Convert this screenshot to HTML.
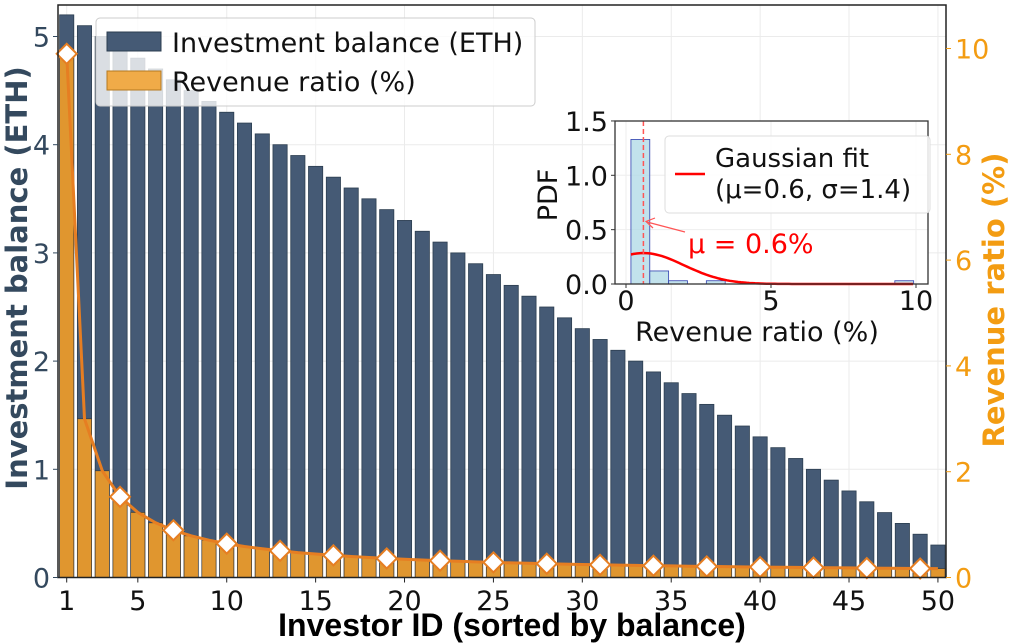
<!DOCTYPE html>
<html><head><meta charset="utf-8">
<style>
html,body{margin:0;padding:0;background:#fff;}
svg{display:block;}
text{font-family:"DejaVu Sans","Liberation Sans",sans-serif;}
</style></head>
<body>
<svg id="s" width="1024" height="643" viewBox="0 0 1024 643" xmlns="http://www.w3.org/2000/svg"></svg>
<script>
const S=document.getElementById('s');
let h='';
const L=58,R=946,T=5,B=577.5;
const X=i=>66.7+(i-1)*17.78;
const YL=v=>B-v*108.2;
const YR=v=>B-v*52.9;
for(let i of [1,5,10,15,20,25,30,35,40,45,50]) h+=`<line x1="${X(i)}" y1="${T}" x2="${X(i)}" y2="${B}" stroke="#ebebeb" stroke-width="1"/>`;
for(let v=1;v<=5;v++) h+=`<line x1="${L}" y1="${YL(v)}" x2="${R}" y2="${YL(v)}" stroke="#ebebeb" stroke-width="1"/>`;
const rev=[];
for(let i=1;i<=50;i++) rev.push(i==1?9.9:0.05+5.9/i);
for(let i=1;i<=50;i++){const v=5.2-0.1*(i-1);
 h+=`<rect x="${X(i)-7.1}" y="${YL(v)}" width="14.2" height="${B-YL(v)}" fill="#455a75" stroke="#2c3e50" stroke-width="0.8"/>`;}
for(let i=1;i<=50;i++){const v=rev[i-1];
 h+=`<rect x="${X(i)-7.1}" y="${YR(v)}" width="14.2" height="${B-YR(v)}" fill="#e0962f" stroke="#333" stroke-width="0.6"/>`;}
let p='';
for(let i=1;i<=50;i++) p+=(i==1?'M':'L')+X(i).toFixed(1)+','+YR(rev[i-1]).toFixed(1);
h+=`<path d="${p}" fill="none" stroke="#e67e22" stroke-width="3"/>`;
for(let i=1;i<=50;i+=3){const cx=X(i),cy=YR(rev[i-1]);
 h+=`<path d="M${cx},${cy-10} L${cx+10},${cy} L${cx},${cy+10} L${cx-10},${cy} Z" fill="#fff" stroke="#e67e22" stroke-width="2"/>`;}
h+=`<rect x="${L}" y="${T}" width="${R-L}" height="${B-T}" fill="none" stroke="#222" stroke-width="1.5"/>`;
for(let i of [1,5,10,15,20,25,30,35,40,45,50]){h+=`<line x1="${X(i)}" y1="${B}" x2="${X(i)}" y2="${B+5}" stroke="#222"/>`;
 h+=`<text x="${X(i)}" y="610" font-size="27" text-anchor="middle" fill="#111">${i}</text>`;}
for(let v=0;v<=5;v++){h+=`<line x1="${L-5}" y1="${YL(v)}" x2="${L}" y2="${YL(v)}" stroke="#34495e"/>`;
 h+=`<text x="${L-8}" y="${YL(v)+10}" font-size="27" text-anchor="end" fill="#34495e">${v}</text>`;}
for(let v=0;v<=10;v+=2){h+=`<line x1="${R}" y1="${YR(v)}" x2="${R+5}" y2="${YR(v)}" stroke="#f39c12"/>`;
 h+=`<text x="${R+9}" y="${YR(v)+10}" font-size="27" fill="#f39c12">${v}</text>`;}
h+=`<text x="512" y="636" font-size="32" font-weight="bold" text-anchor="middle" fill="#000" style="font-family:'Liberation Sans',sans-serif">Investor ID (sorted by balance)</text>`;
h+=`<text transform="translate(27,278) rotate(-90)" font-size="29" font-weight="bold" text-anchor="middle" fill="#34495e">Investment balance (ETH)</text>`;
h+=`<text transform="translate(1004,300) rotate(-90)" font-size="29" font-weight="bold" text-anchor="middle" fill="#f39c12">Revenue ratio (%)</text>`;
h+=`<rect x="96" y="18" width="439" height="88" rx="4" fill="#fff" fill-opacity="0.8" stroke="#ccc"/>`;
h+=`<rect x="107" y="32" width="54" height="19" fill="#455a75" stroke="#2c3e50"/>`;
h+=`<text x="172" y="52" font-size="27" fill="#111">Investment balance (ETH)</text>`;
h+=`<rect x="107" y="71" width="54" height="19" fill="#f0ab48" stroke="#b57a20"/>`;
h+=`<text x="172" y="91" font-size="27" fill="#111">Revenue ratio (%)</text>`;
const iL=615,iR=928,iT=121,iB=284;
const IX=v=>626+v*29, IY=v=>iB-v*108.7;
h+=`<rect x="${iL}" y="${iT}" width="${iR-iL}" height="${iB-iT}" fill="#fff"/>`;
for(let v of [0,5,10]) h+=`<line x1="${IX(v)}" y1="${iT}" x2="${IX(v)}" y2="${iB}" stroke="#eee"/>`;
for(let v of [0.5,1,1.5]) h+=`<line x1="${iL}" y1="${IY(v)}" x2="${iR}" y2="${IY(v)}" stroke="#eee"/>`;
const bw=0.65,b0=0.17;
const hist=[[0,1.33],[1,0.12],[2,0.03],[4,0.03],[14,0.03]];
for(const [k,v] of hist){const x0=IX(b0+k*bw),x1=IX(b0+(k+1)*bw);
 h+=`<rect x="${x0}" y="${IY(v)}" width="${x1-x0}" height="${iB-IY(v)}" fill="#add8e6" fill-opacity="0.75" stroke="#3040b0" stroke-width="0.8"/>`;}
let g='';
for(let t=0;t<=100;t++){const x=0.17+t*(9.9-0.17)/100;const y=Math.exp(-0.5*((x-0.6)/1.4)**2)/(1.4*Math.sqrt(2*Math.PI));
 g+=(t?'L':'M')+IX(x).toFixed(1)+','+IY(y).toFixed(1);}
h+=`<path d="${g}" fill="none" stroke="#f00" stroke-width="2.5"/>`;
h+=`<line x1="${IX(0.6)}" y1="${iT}" x2="${IX(0.6)}" y2="${iB}" stroke="#f55" stroke-width="1.5" stroke-dasharray="5,3"/>`;
h+=`<line x1="685" y1="232" x2="647" y2="222" stroke="#f55" stroke-width="1.2"/>`;
h+=`<path d="M655,218 L646,221.5 L653,228" fill="none" stroke="#f55" stroke-width="1.2"/>`;
h+=`<text x="688" y="253" font-size="27" fill="#f00">μ = 0.6%</text>`;
h+=`<rect x="${iL}" y="${iT}" width="${iR-iL}" height="${iB-iT}" fill="none" stroke="#333" stroke-width="1.3"/>`;
for(let v of [0,5,10]){h+=`<line x1="${IX(v)}" y1="${iB}" x2="${IX(v)}" y2="${iB+4}" stroke="#333"/>`;
 h+=`<text x="${IX(v)}" y="310" font-size="27" text-anchor="middle" fill="#111">${v}</text>`;}
for(let v of [0,0.5,1,1.5]){h+=`<line x1="${iL-4}" y1="${IY(v)}" x2="${iL}" y2="${IY(v)}" stroke="#333"/>`;
 h+=`<text x="${iL-7}" y="${IY(v)+10}" font-size="27" text-anchor="end" fill="#111">${v.toFixed(1)}</text>`;}
h+=`<text x="757" y="341" font-size="27" text-anchor="middle" fill="#111">Revenue ratio (%)</text>`;
h+=`<text transform="translate(557,195) rotate(-90)" font-size="27" text-anchor="middle" fill="#111">PDF</text>`;
h+=`<rect x="665" y="136" width="265" height="77" rx="4" fill="#fff" fill-opacity="0.85" stroke="#ddd"/>`;
h+=`<line x1="675" y1="174" x2="705" y2="174" stroke="#f00" stroke-width="2.5"/>`;
h+=`<text x="715" y="167" font-size="26" fill="#111">Gaussian fit</text>`;
h+=`<text x="715" y="198" font-size="26" fill="#111">(μ=0.6, σ=1.4)</text>`;
S.innerHTML=h;
</script>
</body></html>
